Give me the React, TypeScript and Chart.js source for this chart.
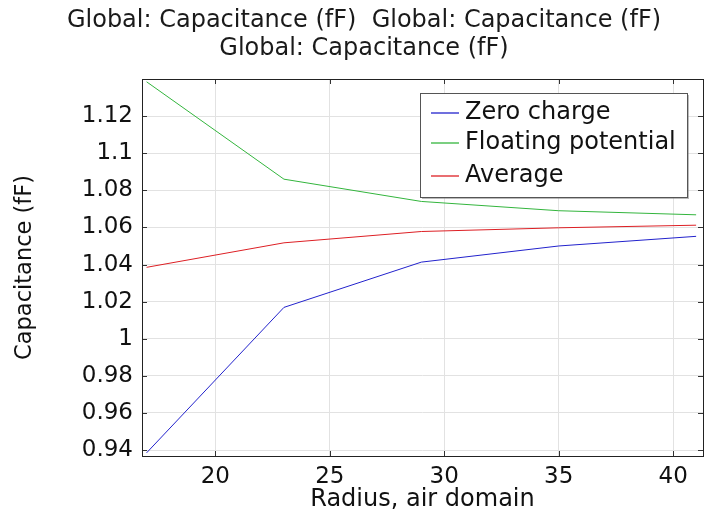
import React, { useEffect, useRef } from "react";
import { Chart, registerables } from "chart.js";

Chart.register(...registerables);

const radius = [17, 23, 29, 35, 41];
const zeroCharge = [0.9385, 1.0169, 1.0413, 1.0500, 1.0552];
const floatingPotential = [1.1385, 1.0860, 1.0740, 1.0690, 1.0668];
const average = [1.0385, 1.0517, 1.0578, 1.0598, 1.0612];

const seriesLabels = ["Zero charge", "Floating potential", "Average"];
const seriesColors = ["#2222cc", "#33b53d", "#dd1f24"];

const titleLines = [
  "Global: Capacitance (fF)  Global: Capacitance (fF)",
  "Global: Capacitance (fF)",
];
const xTicks = [20, 25, 30, 35, 40];
const yTicks = [0.94, 0.96, 0.98, 1.0, 1.02, 1.04, 1.06, 1.08, 1.1, 1.12];
const xTitle = "Radius, air domain";
const yTitle = "Capacitance (fF)";

const FONT = "'DejaVu Sans', sans-serif";

const titlePlugin = {
  id: "customTitle",
  afterDraw(chart: any) {
    const ctx = chart.ctx;
    ctx.save();
    ctx.font = `24px ${FONT}`;
    ctx.fillStyle = "#1a1a1a";
    ctx.textAlign = "center";
    ctx.textBaseline = "middle";
    const ys = [21, 49];
    titleLines.forEach((t, i) => ctx.fillText(t, chart.width / 2, ys[i]));
    ctx.restore();
  },
};

const framePlugin = {
  id: "frameTicks",
  afterDatasetsDraw(chart: any) {
    const { ctx, chartArea } = chart;
    const { left, right, top, bottom } = chartArea;
    const xs = chart.scales.x;
    const ys = chart.scales.y;
    ctx.save();
    ctx.strokeStyle = "#333";
    ctx.lineWidth = 1;
    const L = 5;
    ctx.beginPath();
    xTicks.forEach((v) => {
      const px = Math.round(xs.getPixelForValue(v)) + 0.5;
      ctx.moveTo(px, bottom);
      ctx.lineTo(px, bottom - L);
      ctx.moveTo(px, top);
      ctx.lineTo(px, top + L);
    });
    yTicks.forEach((v) => {
      const py = Math.round(ys.getPixelForValue(v)) + 0.5;
      ctx.moveTo(left, py);
      ctx.lineTo(left + L, py);
      ctx.moveTo(right, py);
      ctx.lineTo(right - L, py);
    });
    ctx.stroke();
    ctx.strokeStyle = "#222";
    ctx.strokeRect(Math.round(left) + 0.5, Math.round(top) + 0.5, Math.round(right - left), Math.round(bottom - top));
    ctx.restore();
  },
};

const legendPlugin = {
  id: "insideLegend",
  afterDraw(chart: any) {
    const ctx = chart.ctx;
    const bx = 420, by = 93, bw = 267, bh = 104;
    ctx.save();
    ctx.fillStyle = "rgba(120,120,120,0.5)";
    ctx.fillRect(bx + 2, by + 2, bw, bh);
    ctx.fillStyle = "#fff";
    ctx.fillRect(bx, by, bw, bh);
    ctx.strokeStyle = "#555";
    ctx.lineWidth = 1;
    ctx.strokeRect(bx + 0.5, by + 0.5, bw, bh);
    ctx.font = `24px ${FONT}`;
    ctx.textBaseline = "middle";
    ctx.textAlign = "left";
    const rows = [113, 143, 176];
    chart.data.datasets.forEach((ds: any, i: number) => {
      const y = rows[i];
      ctx.strokeStyle = ds.borderColor;
      ctx.lineWidth = 1.3;
      ctx.beginPath();
      ctx.moveTo(431, y);
      ctx.lineTo(459, y);
      ctx.stroke();
      ctx.fillStyle = "#111";
      ctx.fillText(ds.label, 465, y);
    });
    ctx.restore();
  },
};

export default function App() {
  const ref = useRef<HTMLCanvasElement>(null);
  useEffect(() => {
    document.body.style.margin = "0";
    const series = [zeroCharge, floatingPotential, average];
    const chart = new Chart(ref.current!, {
      type: "line",
      data: {
        datasets: series.map((vals, i) => ({
          label: seriesLabels[i],
          data: radius.map((r, j) => ({ x: r, y: vals[j] })),
          borderColor: seriesColors[i],
          backgroundColor: seriesColors[i],
          borderWidth: 1,
          pointRadius: 0,
          tension: 0,
          fill: false,
        })),
      },
      options: {
        animation: false,
        responsive: false,
        layout: { padding: { top: 79, right: 25, left: 0, bottom: 0 } },
        plugins: {
          legend: { display: false },
          title: { display: false },
          tooltip: { enabled: false },
        },
        scales: {
          x: {
            type: "linear",
            min: 16.8,
            max: 41.3,
            afterBuildTicks: (s: any) => {
              s.ticks = xTicks.map((v) => ({ value: v }));
            },
            afterFit: (s: any) => {
              s.height = 53;
            },
            grid: { color: "#e2e2e2", drawTicks: false },
            border: { display: false },
            ticks: {
              color: "#111",
              font: { family: FONT, size: 23 },
              padding: 7,
              maxRotation: 0,
              callback: (v: any) => String(v),
            },
            title: {
              display: true,
              text: xTitle,
              color: "#111",
              font: { family: FONT, size: 24 },
              padding: { top: 0, bottom: -5 },
            },
          },
          y: {
            type: "linear",
            min: 0.9368,
            max: 1.14,
            afterBuildTicks: (s: any) => {
              s.ticks = yTicks.map((v) => ({ value: v }));
            },
            afterFit: (s: any) => {
              s.width = 142;
            },
            grid: { color: "#e2e2e2", drawTicks: false },
            border: { display: false },
            ticks: {
              color: "#111",
              font: { family: FONT, size: 23 },
              padding: 9,
              callback: (v: any) => String(Math.round(Number(v) * 100) / 100),
            },
            title: {
              display: true,
              text: yTitle,
              color: "#111",
              font: { family: FONT, size: 22.5 },
              padding: { top: 12, bottom: 0 },
            },
          },
        },
      },
      plugins: [framePlugin, titlePlugin, legendPlugin],
    } as any);
    return () => chart.destroy();
  }, []);
  return <canvas ref={ref} width={728} height={509} style={{ display: "block" }} />;
}
